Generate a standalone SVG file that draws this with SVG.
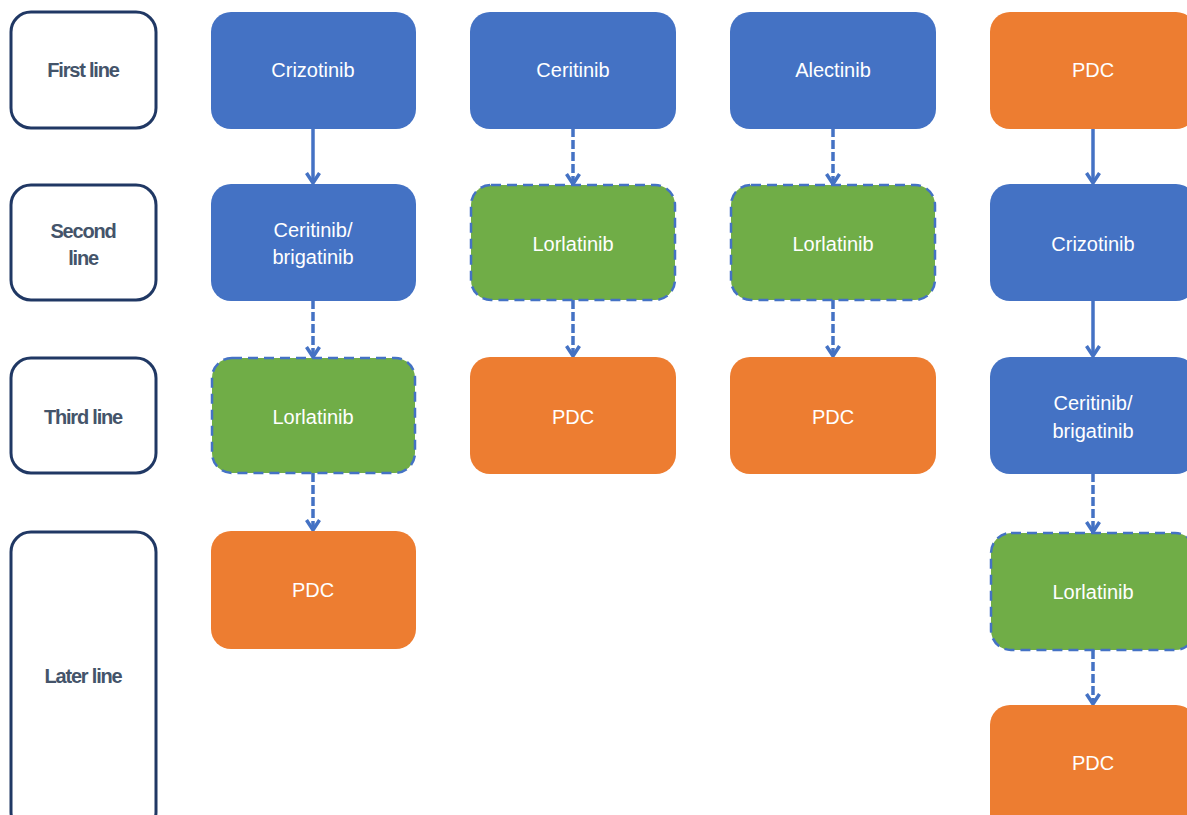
<svg xmlns="http://www.w3.org/2000/svg" width="1187" height="815" viewBox="0 0 1187 815">
<style>
.lbl{fill:#fff;stroke:#203864;stroke-width:3}
.lt{font-family:"Liberation Sans",Arial,sans-serif;font-size:20px;font-weight:bold;fill:#44546A;text-anchor:middle;letter-spacing:-1.2px}
.blue{fill:#4472C4}
.green{fill:#70AD47;stroke:#4472C4;stroke-width:2.5;stroke-dasharray:10 6}
.orange{fill:#ED7D31}
.t{font-family:"Liberation Sans",Arial,sans-serif;font-size:20px;fill:#fff;text-anchor:middle}
.c{stroke:#4472C4;stroke-width:3.5;fill:none}
.d{stroke-dasharray:9 3}
</style>
<defs>
<marker id="ah" viewBox="0 0 14 16" refX="12" refY="8" markerWidth="14" markerHeight="16" markerUnits="userSpaceOnUse" orient="auto">
<path d="M2,1.5 L12,8 L2,14.5" fill="none" stroke="#4472C4" stroke-width="3.5"/>
</marker>
</defs>
<g id="label-first"><rect class="lbl" x="11" y="12" width="145" height="116" rx="20"/><text class="lt" x="83" y="77">First line</text></g>
<g id="label-second"><rect class="lbl" x="11" y="185" width="145" height="115" rx="20"/><text class="lt" x="83" y="238">Second</text><text class="lt" x="83" y="265">line</text></g>
<g id="label-third"><rect class="lbl" x="11" y="358" width="145" height="115" rx="20"/><text class="lt" x="83" y="424">Third line</text></g>
<g id="label-later"><rect class="lbl" x="11" y="532" width="145" height="300" rx="20"/><text class="lt" x="83" y="683">Later line</text></g>

<g id="connectors">
<line class="c" x1="313" y1="128" x2="313" y2="183" marker-end="url(#ah)"/>
<line class="c d" x1="313" y1="300" x2="313" y2="357" marker-end="url(#ah)"/>
<line class="c d" x1="313" y1="473" x2="313" y2="530" marker-end="url(#ah)"/>
<line class="c d" x1="573" y1="128" x2="573" y2="184" marker-end="url(#ah)"/>
<line class="c d" x1="573" y1="300" x2="573" y2="356" marker-end="url(#ah)"/>
<line class="c d" x1="833" y1="128" x2="833" y2="184" marker-end="url(#ah)"/>
<line class="c d" x1="833" y1="300" x2="833" y2="356" marker-end="url(#ah)"/>
<line class="c" x1="1093" y1="128" x2="1093" y2="183" marker-end="url(#ah)"/>
<line class="c" x1="1093" y1="300" x2="1093" y2="356" marker-end="url(#ah)"/>
<line class="c d" x1="1093" y1="473" x2="1093" y2="532" marker-end="url(#ah)"/>
<line class="c d" x1="1093" y1="650" x2="1093" y2="704" marker-end="url(#ah)"/>
</g>

<g id="c1-crizotinib"><rect class="blue" x="211" y="12" width="205" height="117" rx="20"/><text class="t" x="313" y="77">Crizotinib</text></g>
<g id="c1-ceritinib"><rect class="blue" x="211" y="184" width="205" height="117" rx="20"/><text class="t" x="313" y="237">Ceritinib/</text><text class="t" x="313" y="264">brigatinib</text></g>
<g id="c1-lorlatinib"><rect class="green" x="212" y="358" width="203" height="115" rx="20"/><text class="t" x="313" y="424">Lorlatinib</text></g>
<g id="c1-pdc"><rect class="orange" x="211" y="531" width="205" height="118" rx="20"/><text class="t" x="313" y="597">PDC</text></g>

<g id="c2-ceritinib"><rect class="blue" x="470" y="12" width="206" height="117" rx="20"/><text class="t" x="573" y="77">Ceritinib</text></g>
<g id="c2-lorlatinib"><rect class="green" x="471" y="185" width="204" height="115" rx="20"/><text class="t" x="573" y="251">Lorlatinib</text></g>
<g id="c2-pdc"><rect class="orange" x="470" y="357" width="206" height="117" rx="20"/><text class="t" x="573" y="424">PDC</text></g>

<g id="c3-alectinib"><rect class="blue" x="730" y="12" width="206" height="117" rx="20"/><text class="t" x="833" y="77">Alectinib</text></g>
<g id="c3-lorlatinib"><rect class="green" x="731" y="185" width="204" height="115" rx="20"/><text class="t" x="833" y="251">Lorlatinib</text></g>
<g id="c3-pdc"><rect class="orange" x="730" y="357" width="206" height="117" rx="20"/><text class="t" x="833" y="424">PDC</text></g>

<g id="c4-pdc"><rect class="orange" x="990" y="12" width="206" height="117" rx="20"/><text class="t" x="1093" y="77">PDC</text></g>
<g id="c4-crizotinib"><rect class="blue" x="990" y="184" width="206" height="117" rx="20"/><text class="t" x="1093" y="251">Crizotinib</text></g>
<g id="c4-ceritinib"><rect class="blue" x="990" y="357" width="206" height="117" rx="20"/><text class="t" x="1093" y="410">Ceritinib/</text><text class="t" x="1093" y="438">brigatinib</text></g>
<g id="c4-lorlatinib"><rect class="green" x="991" y="533" width="204" height="117" rx="20"/><text class="t" x="1093" y="599">Lorlatinib</text></g>
<g id="c4-pdc2"><rect class="orange" x="990" y="705" width="206" height="130" rx="20"/><text class="t" x="1093" y="770">PDC</text></g>
</svg>
